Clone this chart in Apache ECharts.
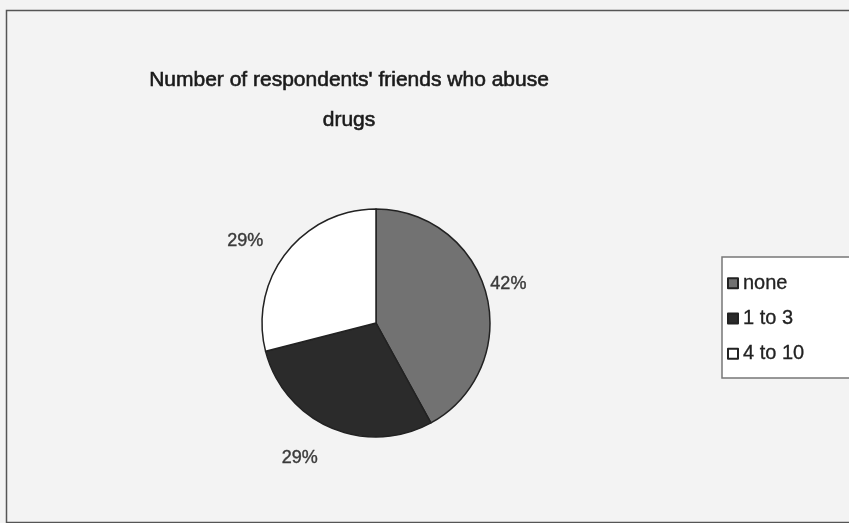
<!DOCTYPE html>
<html><head><meta charset="utf-8">
<script src="https://cdn.jsdelivr.net/npm/echarts@6/dist/echarts.min.js"></script>
<style>html,body{margin:0;padding:0;background:#f3f3f3}#c{width:849px;height:523px}</style>
</head><body><div id="c"></div>
<script>
const titleText = "Number of respondents' friends who abuse\ndrugs";
const categories = ["none", "1 to 3", "4 to 10"];
const values = [42, 29, 29];

// styling (not data)
const colors = ["#727272", "#2b2b2b", "#ffffff"];
const labelLineLengths = [2, 30, 30];
const labelShift = [[-3, -10], [4, 3], [6, 6]];

const chart = echarts.init(document.getElementById('c'));
chart.setOption({
  backgroundColor: '#f3f3f3',
  animation: false,
  graphic: [{
    type: 'rect', left: 4, top: 8, shape: {width: 900, height: 512},
    style: {fill: 'none', stroke: '#555', lineWidth: 1.5}, z: -1
  }],
  title: {
    text: titleText, left: 344, top: 55, textAlign: 'center',
    textStyle: {fontFamily: 'Liberation Sans', fontSize: 21, fontWeight: 'normal', color: '#1a1a1a',
      textBorderColor: '#1a1a1a', textBorderWidth: 0.6, lineHeight: 40}
  },
  legend: {
    orient: 'vertical', left: 722, top: 257, icon: 'rect',
    itemWidth: 10, itemHeight: 10, itemGap: 15,
    padding: [16, 60, 14, 5],
    backgroundColor: '#ffffff', borderColor: '#777', borderWidth: 1.5,
    textStyle: {fontFamily: 'Liberation Sans', fontSize: 20, color: '#222',
      textBorderColor: '#222', textBorderWidth: 0.3},
    data: categories
  },
  series: [{
    type: 'pie', center: [376, 323], radius: 114, startAngle: 90, clockwise: true,
    itemStyle: {borderColor: '#222', borderWidth: 1.5},
    label: {show: true, position: 'outside', formatter: '{c}%', fontFamily: 'Liberation Sans', fontSize: 18, color: '#3a3a3a',
      textBorderColor: '#3a3a3a', textBorderWidth: 0.4},
    labelLine: {show: false, length: 30, length2: 0},
    labelLayout: p => ({dx: labelShift[p.dataIndex][0], dy: labelShift[p.dataIndex][1]}),
    emphasis: {disabled: true},
    data: categories.map((n, i) => ({
      name: n, value: values[i],
      itemStyle: {color: colors[i]},
      labelLine: {show: false, length: labelLineLengths[i], length2: 0}
    }))
  }]
});
</script></body></html>
